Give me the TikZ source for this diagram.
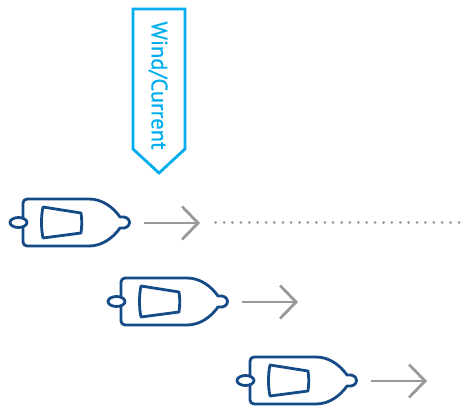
\documentclass[tikz,border=0pt]{standalone}
\usepackage{fontspec}
\newfontfamily\windfont[FakeBold=0.5]{PT Sans}
\usetikzlibrary{
  arrows.meta,
  positioning,
  calc
}
\definecolor{hullBlue}{RGB}{20,75,135}
\definecolor{windBlue}{RGB}{0,174,239}
\definecolor{pathGray}{RGB}{153,153,153}
\tikzset{
  boatline/.style={
    draw=hullBlue,
    line width=2.8pt,
    line join=round,
    fill=white
  },
  course/.style={
    draw=pathGray,
    line width=2.8pt,
    -{Straight Barb[length=16pt,width=33pt]}
  },
  pics/boat/.style={
    code={
      % hull, from the stern round the bow
      \draw[boatline] (0,-4) to[out=90,in=180] (4,0) -- (66,0)
        .. controls (79,0) and (90,-8) .. (97,-18)
        .. controls (103,-17) and (106.5,-20) .. (106.5,-23.5)
        .. controls (106.5,-27) and (103,-30) .. (97,-29)
        .. controls (90,-39) and (79,-47) .. (66,-47)
        -- (4,-47) to[out=180,in=270] (0,-43) -- cycle;
      % knob at the stern
      \draw[boatline] (-4.5,-23.5) ellipse (8.5 and 5);
      % cabin
      \draw[boatline] (20,-8) .. controls (18,-17) and (18,-30) .. (20,-39)
        -- (58,-34) .. controls (59,-27) and (59,-20) .. (58,-14) -- cycle;
    }
  }
}
\begin{document}
\begin{tikzpicture}[x=1pt,y=1pt,>=Stealth]
  \useasboundingbox (0,0) rectangle (461,-407);

  \foreach \i/\x/\y in {1/23/-199, 2/121/-278, 3/250/-357}{
    \pic (boat\i) at (\x,\y) {boat};
    \coordinate (from\i) at ($(\x,\y)+(121,-24)$);
    \coordinate (to\i) at ($(\x,\y)+(177,-24)$);
    \draw[course] (from\i) -- (to\i);
  }

  \coordinate (dotstart) at (215.7,-222.5);
  \coordinate (dotend) at (461,-222.5);
  \draw[pathGray, line width=3pt, line cap=round, dash pattern=on 0pt off 8.39pt] (dotstart) -- (dotend);

  \draw[windBlue, line width=2.8pt, miter limit=10] (133,-9) -- (185,-9) -- (185,-149) -- (159,-173) -- (133,-149) -- cycle;
  \node[text=windBlue, rotate=-90, font=\windfont\fontsize{22.5}{22.5}\selectfont, inner sep=0pt] (windlabel) at (158,-85.5) {Wind/Current};
\end{tikzpicture}
\end{document}
